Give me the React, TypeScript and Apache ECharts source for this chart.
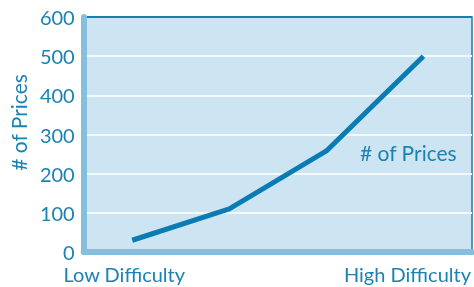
import React, { useEffect, useRef } from "react";
import * as echarts from "echarts";

const categories = ["Low Difficulty", "", "", "High Difficulty"];
const prices = [30, 110, 258, 500];
const yTicks = [0, 100, 200, 300, 400, 500, 600];
const seriesName = "# of Prices";

const TEXT = "#1a82b5";
const LINE = "#0b7bb4";
const BORDER = "#1a7fb0";
const GRIDLINE = "#f4f9fc";
const FONT = "Lato";

export default function App() {
  const ref = useRef<HTMLDivElement>(null);
  useEffect(() => {
    if (!ref.current) return;
    const chart = echarts.init(ref.current, undefined, { renderer: "svg" });
    const splitColors = yTicks.map((_, i) => (i === yTicks.length - 1 ? BORDER : GRIDLINE));
    chart.setOption({
      animation: false,
      textStyle: { fontFamily: FONT },
      grid: {
        left: 81,
        right: 2,
        top: 17,
        bottom: 35,
        show: true,
        backgroundColor: "#cde4f2",
        borderColor: BORDER,
        borderWidth: 1.5,
      },
      legend: {
        data: [{ name: seriesName, icon: "none" }],
        left: 350,
        top: 137,
        itemWidth: 0,
        itemHeight: 0,
        textStyle: { color: TEXT, fontSize: 21, fontFamily: FONT },
      },
      xAxis: {
        type: "category",
        data: categories,
        axisLine: { show: true, lineStyle: { color: "#85bfdd", width: 6 } },
        axisTick: { show: false },
        axisLabel: {
          interval: 0,
          margin: 12,
          color: TEXT,
          fontSize: 20,
          fontFamily: FONT,
          formatter: (v: string, i: number) =>
            v === "" ? "" : i === 0 ? "{a|" + v + "}" : "{b|" + v + "}",
          rich: {
            a: { color: TEXT, fontSize: 20, fontFamily: FONT, padding: [0, 16, 0, 0] },
            b: { color: TEXT, fontSize: 20, fontFamily: FONT, padding: [0, 32, 0, 0] },
          },
        },
      },
      yAxis: {
        type: "value",
        min: yTicks[0],
        max: yTicks[yTicks.length - 1],
        interval: 100,
        name: seriesName,
        nameLocation: "middle",
        nameGap: 54,
        nameTextStyle: { color: TEXT, fontSize: 21, fontFamily: FONT, padding: [0, 0, 0, 24] },
        axisLine: { show: true, lineStyle: { color: "#85bfdd", width: 6 } },
        axisTick: { show: false },
        axisLabel: { color: TEXT, fontSize: 20, fontFamily: FONT, margin: 9 },
        splitLine: { show: true, lineStyle: { color: splitColors, width: 2 } },
      },
      series: [
        {
          name: seriesName,
          type: "line",
          data: prices,
          showSymbol: false,
          symbol: "none",
          lineStyle: { color: LINE, width: 5 },
          itemStyle: { color: LINE },
        },
      ],
    });
    return () => chart.dispose();
  }, []);
  return (
    <div
      ref={ref}
      style={{ position: "fixed", left: 0, top: 0, width: 474, height: 287 }}
    />
  );
}
